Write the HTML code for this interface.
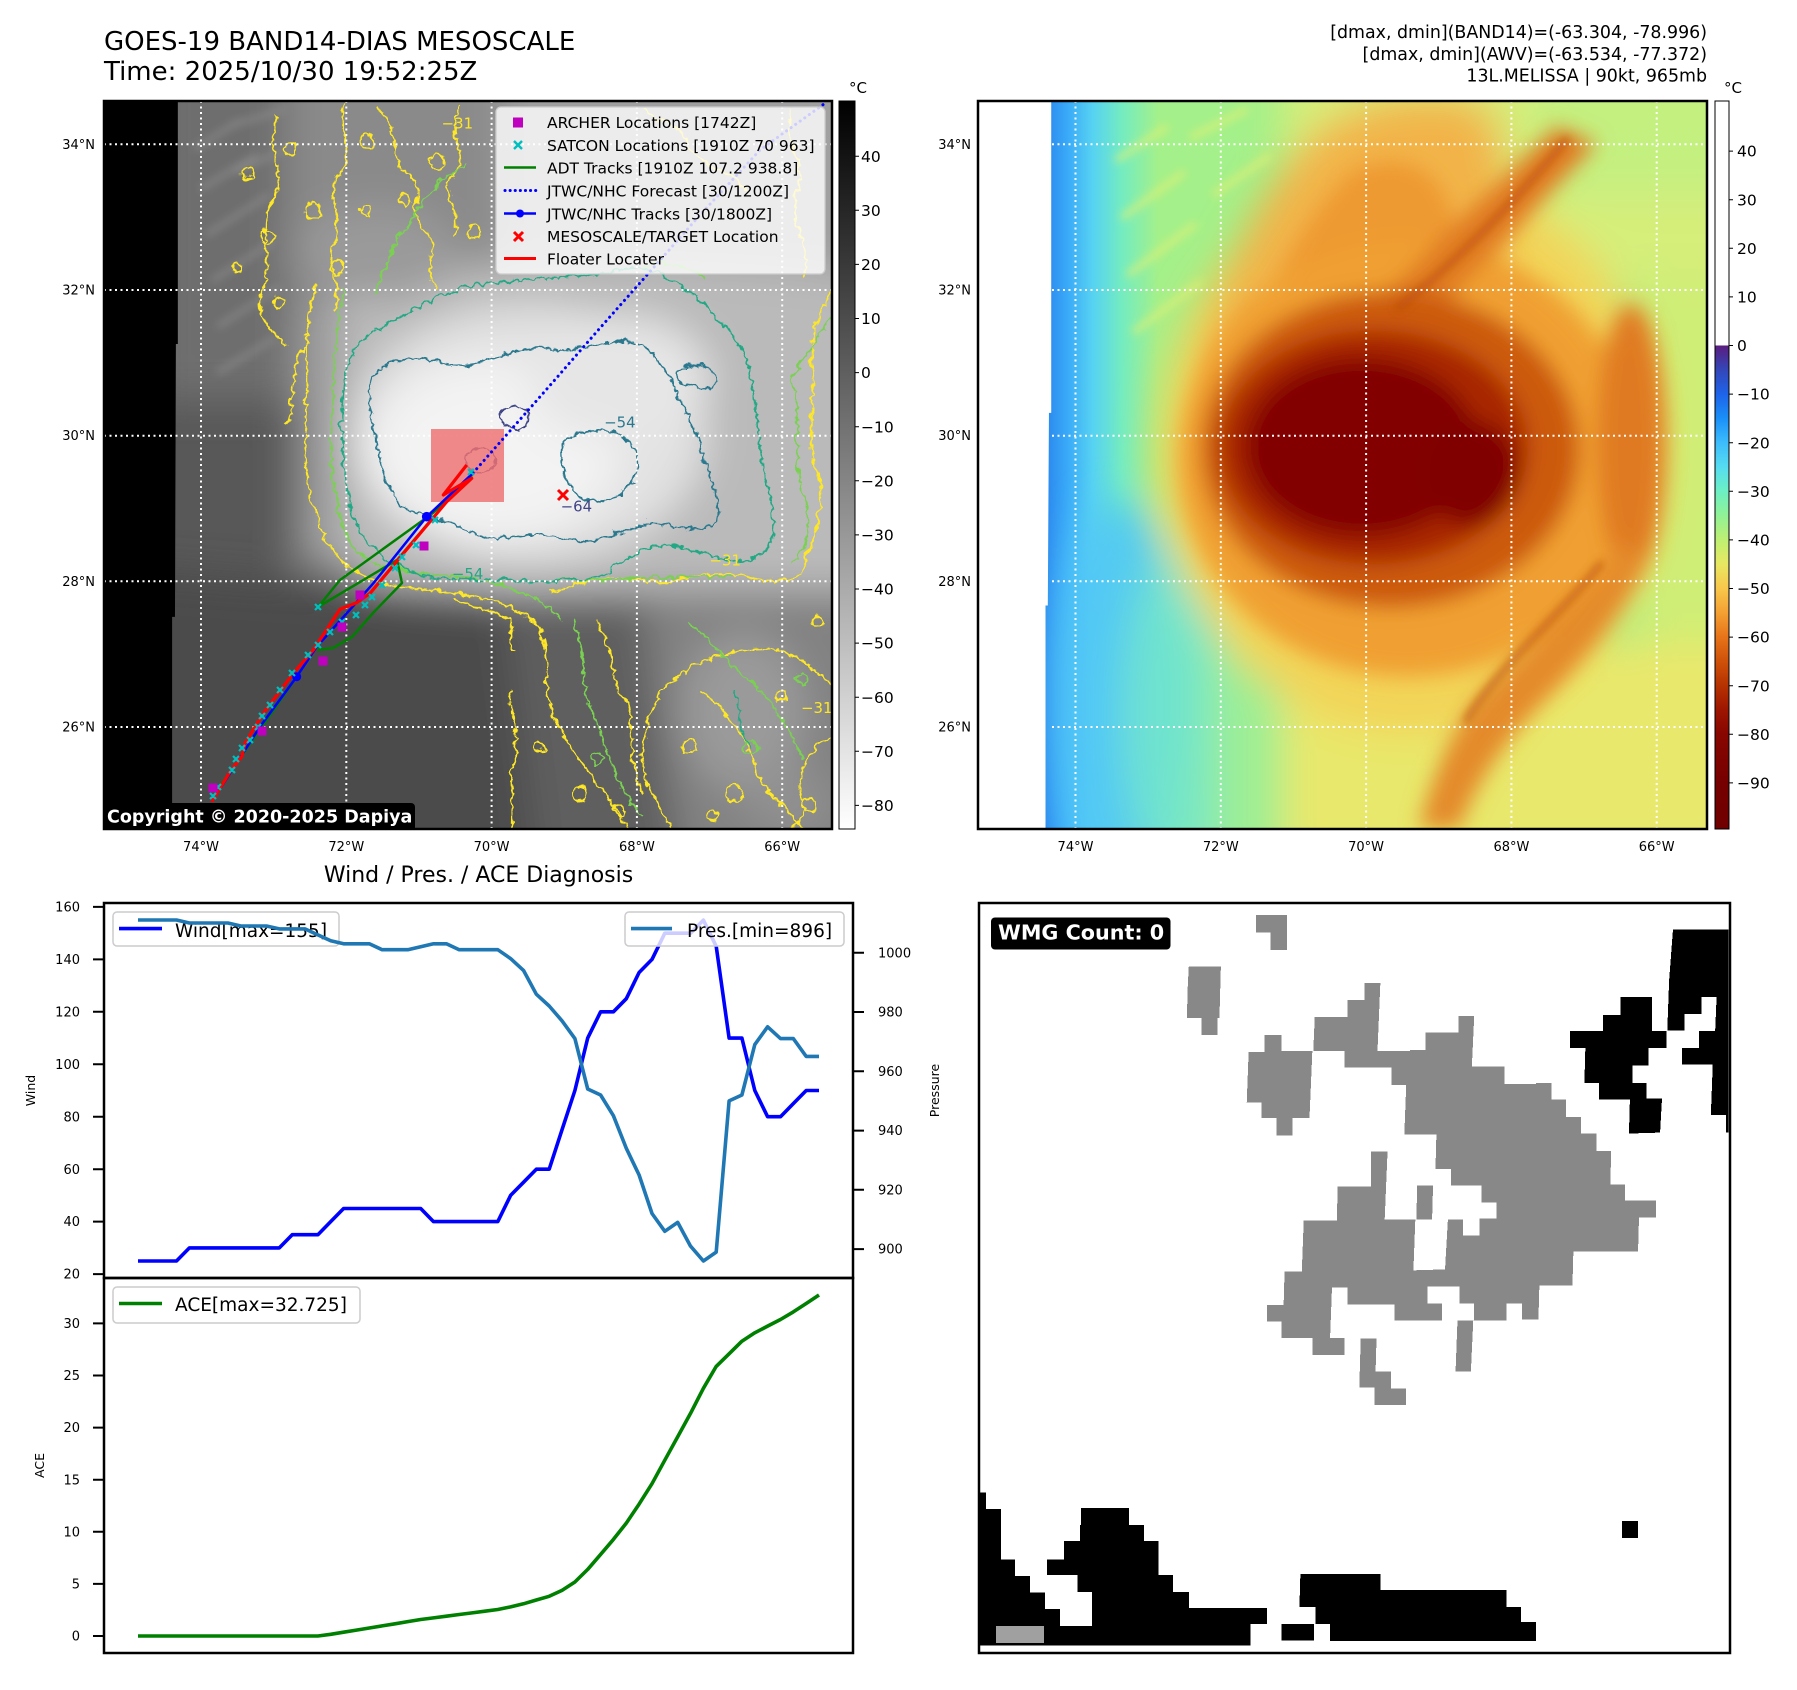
<!DOCTYPE html>
<html>
<head>
<meta charset="utf-8">
<style>
html,body{margin:0;padding:0;background:#fff;}
svg{display:block;}
text{font-family:"DejaVu Sans","Liberation Sans",sans-serif;}
</style>
</head>
<body>
<svg width="1797" height="1690" viewBox="0 0 1797 1690" xmlns="http://www.w3.org/2000/svg">
<defs>
  <clipPath id="clipL"><rect x="104" y="101" width="728" height="728"/></clipPath>
  <clipPath id="clipR"><rect x="978" y="101" width="729" height="728"/></clipPath>
  <filter id="b18" filterUnits="userSpaceOnUse" x="0" y="0" width="1700" height="1600"><feGaussianBlur stdDeviation="17"/></filter>
  <filter id="b10" filterUnits="userSpaceOnUse" x="0" y="0" width="1700" height="1600"><feGaussianBlur stdDeviation="9"/></filter>
  <filter id="b5" filterUnits="userSpaceOnUse" x="0" y="0" width="1700" height="1600"><feGaussianBlur stdDeviation="4"/></filter>
  <filter id="wig" filterUnits="userSpaceOnUse" x="0" y="0" width="1700" height="1600">
    <feTurbulence type="turbulence" baseFrequency="0.09" numOctaves="2" seed="4" result="t"/>
    <feDisplacementMap in="SourceGraphic" in2="t" scale="7" xChannelSelector="R" yChannelSelector="G"/>
  </filter>
  <linearGradient id="gcbL" x1="0" y1="0" x2="0" y2="1">
    <stop offset="0" stop-color="#000"/><stop offset="1" stop-color="#fff"/>
  </linearGradient>
  <linearGradient id="gcbR" x1="0" y1="0" x2="0" y2="1">
    <stop offset="0" stop-color="#fff"/>
    <stop offset="0.3355" stop-color="#fff"/>
    <stop offset="0.336" stop-color="#5a1d7e"/>
    <stop offset="0.369" stop-color="#3446b8"/>
    <stop offset="0.403" stop-color="#1e64ea"/>
    <stop offset="0.436" stop-color="#1a90f8"/>
    <stop offset="0.469" stop-color="#3cbcfc"/>
    <stop offset="0.503" stop-color="#56dcf0"/>
    <stop offset="0.536" stop-color="#6cf0c4"/>
    <stop offset="0.569" stop-color="#90f296"/>
    <stop offset="0.603" stop-color="#bef072"/>
    <stop offset="0.636" stop-color="#e8e862"/>
    <stop offset="0.669" stop-color="#f8c84c"/>
    <stop offset="0.703" stop-color="#f4a032"/>
    <stop offset="0.736" stop-color="#e8741a"/>
    <stop offset="0.769" stop-color="#d0520a"/>
    <stop offset="0.803" stop-color="#b63200"/>
    <stop offset="0.836" stop-color="#9e1600"/>
    <stop offset="0.869" stop-color="#880600"/>
    <stop offset="0.937" stop-color="#760000"/>
    <stop offset="1" stop-color="#700000"/>
  </linearGradient>
  <linearGradient id="gWest" x1="913" y1="0" x2="1012" y2="0" gradientUnits="userSpaceOnUse">
    <stop offset="0" stop-color="#2a86ee"/>
    <stop offset="0.2" stop-color="#3aaaf8"/>
    <stop offset="0.42" stop-color="#56d2f2"/>
    <stop offset="0.68" stop-color="#74ecc0"/>
    <stop offset="1" stop-color="#a4f08a"/>
  </linearGradient>
</defs>

<rect x="0" y="0" width="1797" height="1690" fill="#fff"/>

<!-- Titles -->
<text x="104" y="50" font-size="26" fill="#000">GOES-19 BAND14-DIAS MESOSCALE</text>
<text x="104" y="80" font-size="26" fill="#000">Time: 2025/10/30 19:52:25Z</text>
<text x="1707" y="38" font-size="17.4" text-anchor="end">[dmax, dmin](BAND14)=(-63.304, -78.996)</text>
<text x="1707" y="60" font-size="17.4" text-anchor="end">[dmax, dmin](AWV)=(-63.534, -77.372)</text>
<text x="1707" y="81.5" font-size="17.4" text-anchor="end">13L.MELISSA | 90kt, 965mb</text>

<!-- ================= LEFT MAP ================= -->
<g clip-path="url(#clipL)">
  <g transform="matrix(1.1447 0 0 1.1465 -0.17 0.11)">
    <rect x="60" y="60" width="700" height="700" fill="#585858"/>
    <g filter="url(#b18)">
      <rect x="130" y="20" width="135" height="330" fill="#6e6e6e"/>
      <rect x="250" y="20" width="540" height="230" fill="#8a8a8a"/>
      <rect x="440" y="20" width="350" height="220" fill="#a0a0a0"/>
      <path d="M268,262 C330,232 460,226 560,228 C650,232 790,236 790,262 L790,520 C650,522 560,520 480,532 C400,526 320,516 286,492 C262,440 258,320 268,262Z" fill="#bababa"/>
      <rect x="258" y="255" width="40" height="240" fill="#9c9c9c"/>
      <ellipse cx="330" cy="220" rx="70" ry="40" fill="#9a9a9a"/>
      <ellipse cx="462" cy="378" rx="155" ry="112" fill="#e2e2e2"/>
      <ellipse cx="432" cy="392" rx="110" ry="78" fill="#f3f3f3"/>
      <ellipse cx="540" cy="330" rx="80" ry="55" fill="#e6e6e6"/>
      <path d="M100,495 L440,520 L472,790 L100,790Z" fill="#4b4b4b"/>
      <path d="M440,520 L560,518 L600,790 L472,790Z" fill="#5e5e5e"/>
      <path d="M560,515 L790,515 L790,790 L600,790Z" fill="#828282"/>
      <ellipse cx="650" cy="620" rx="55" ry="70" fill="#9a9a9a"/>
      <ellipse cx="690" cy="700" rx="40" ry="30" fill="#909090"/>
    </g>
    <!-- western streaks -->
    <g stroke="#909090" stroke-width="4" fill="none" filter="url(#b5)" opacity="0.8">
      <path d="M170,130 L210,105"/><path d="M175,165 L225,135"/><path d="M180,205 L235,170"/>
      <path d="M185,245 L240,210"/><path d="M190,285 L245,250"/><path d="M190,325 L240,295"/>
      <path d="M200,110 L250,95"/><path d="M205,150 L255,128"/>
    </g>
    <!-- contours -->
    <g fill="none" stroke-width="1.6" filter="url(#wig)">
      <g stroke="#fde725">
        <path d="M275,245 C262,280 268,330 265,380 C262,420 278,460 290,480 C300,492 318,505 340,508 C360,512 385,512 410,518 C440,524 458,530 470,548 C482,575 470,600 485,630 C500,660 530,690 548,723"/>
        <path d="M727,250 C715,265 705,290 708,320 C712,350 700,380 712,410 C724,440 705,470 700,495 C690,510 660,505 640,500 C610,495 590,510 560,505 C530,500 505,505 480,515"/>
        <path d="M585,723 C575,700 555,680 560,650 C565,620 570,600 595,585 C620,570 650,560 680,565 C700,570 715,590 727,595"/>
        <path d="M727,640 C705,650 690,680 700,700 C705,712 690,720 680,723"/>
        <path d="M445,723 C450,700 440,680 448,660 C455,640 440,620 445,600"/>
        <path d="M300,88 C290,110 310,130 295,150 C280,170 300,190 290,210 C280,230 300,250 290,270"/>
        <path d="M240,100 C230,130 250,150 235,175 C222,200 240,225 228,250 C218,270 235,290 250,300"/>
        <path d="M330,95 C350,110 335,135 355,150 C375,165 350,185 370,200 C385,215 365,235 380,250"/>
        <path d="M400,92 C385,115 410,130 395,150 C380,170 405,185 395,205"/>
        <path d="M560,92 C575,110 590,100 600,125 C610,150 640,140 650,165"/>
        <path d="M690,92 C680,120 705,140 695,165 C685,190 710,210 700,240"/>
        <path d="M265,300 C250,320 258,350 248,370"/>
        <path d="M395,520 C410,532 430,526 442,538 C452,548 436,556 450,566"/>
        <path d="M520,540 C535,560 530,590 545,610 C555,630 545,660 560,690"/>
        <path d="M610,600 C630,615 650,640 660,670 C668,695 690,705 700,723"/>
        <circle cx="215" cy="150" r="5"/><circle cx="232" cy="205" r="6"/><circle cx="252" cy="128" r="5"/>
        <circle cx="272" cy="182" r="7"/><circle cx="320" cy="122" r="6"/><circle cx="352" cy="172" r="5"/>
        <circle cx="380" cy="140" r="6"/><circle cx="412" cy="200" r="5"/><circle cx="292" cy="232" r="6"/>
        <circle cx="242" cy="262" r="5"/><circle cx="205" cy="232" r="4"/><circle cx="318" cy="182" r="4"/>
        <circle cx="600" cy="650" r="6"/><circle cx="640" cy="690" r="7"/><circle cx="680" cy="605" r="5"/>
        <circle cx="705" cy="700" r="6"/><circle cx="470" cy="650" r="5"/><circle cx="505" cy="690" r="6"/>
        <circle cx="540" cy="705" r="5"/><circle cx="620" cy="710" r="5"/><circle cx="712" cy="540" r="5"/>
      </g>
      <g stroke="#7ad151">
        <path d="M300,250 C290,280 292,320 288,360 C285,400 292,440 300,465 C310,485 330,495 360,497 C400,500 430,505 455,515 C470,520 480,530 490,540"/>
        <path d="M325,255 C335,235 340,210 355,195 C365,180 370,170 380,160 C385,150 400,150 405,140"/>
        <path d="M727,270 C715,290 700,310 690,330 C700,360 690,400 700,430 C710,460 700,480 690,490"/>
        <path d="M500,540 C510,570 505,600 520,630 C530,660 540,690 560,710"/>
        <path d="M600,540 C620,560 640,580 660,600 C680,620 690,640 700,660"/>
        <path d="M560,230 C580,225 600,230 615,240"/>
        <path d="M485,505 C530,505 580,500 640,502"/>
        <circle cx="655" cy="650" r="6"/><circle cx="520" cy="660" r="5"/><circle cx="700" cy="590" r="5"/>
      </g>
      <g stroke="#22a884">
        <path d="M310,300 C330,280 360,270 380,258 C400,248 430,245 460,242 C490,238 520,240 545,232 C570,228 590,245 610,262 C630,280 650,300 655,330 C660,360 660,390 668,420 C675,450 680,470 660,485 C640,492 615,480 590,475 C565,470 545,485 530,498 C505,508 480,505 450,505 C420,505 395,505 370,500 C345,495 320,480 310,455 C300,430 298,400 297,370 C296,340 298,318 310,300 Z"/>
        <path d="M640,600 C650,620 640,640 655,650"/>
      </g>
      <g stroke="#2a788e">
        <path d="M322,330 C330,315 350,308 372,312 C390,315 405,320 420,315 C440,305 460,300 480,303 C500,305 515,298 540,296 C560,295 575,310 585,330 C592,350 605,365 610,385 C615,410 630,430 625,455 C605,465 585,455 565,455 C545,458 530,470 510,470 C490,470 475,462 455,465 C440,468 425,470 410,462 C395,455 380,450 360,445 C345,440 335,420 330,400 C325,375 318,350 322,330 Z"/>
        <path d="M490,385 C500,372 525,370 540,378 C555,388 560,405 550,420 C540,435 520,440 505,432 C495,425 485,400 490,385 Z"/>
        <path d="M592,322 C600,314 618,316 625,326 C628,336 612,340 600,336 C594,332 590,328 592,322 Z"/>
      </g>
      <g stroke="#414487">
        <path d="M436,360 C440,350 455,350 460,360 C462,368 455,374 446,372 C440,370 434,366 436,360 Z"/>
        <path d="M405,395 C412,386 425,388 430,396 C433,404 425,412 415,410 C408,408 402,402 405,395 Z"/>
      </g>
    </g>
    <g font-size="13">
      <text x="386" y="112" fill="#fde725">−31</text>
      <text x="395" y="505" fill="#22a884">−54</text>
      <text x="528" y="373" fill="#2a788e">−54</text>
      <text x="490" y="446" fill="#414487">−64</text>
      <text x="620" y="493" fill="#fde725">−31</text>
      <text x="700" y="622" fill="#fde725">−31</text>
    </g>
    <!-- black no-data strip -->
    <path d="M60,60 L155.5,60 L155.5,300 L153.8,300 L153,538 L150.5,538 L150.5,760 L60,760Z" fill="#000"/>
  </g>

  <!-- gridlines -->
  <g stroke="#fff" stroke-width="2" stroke-dasharray="2 3.5" fill="none">
    <path d="M201,101V829M346.3,101V829M491.6,101V829M636.9,101V829M782.2,101V829"/>
    <path d="M104,144.3H832M104,290H832M104,435.7H832M104,581.3H832M104,727H832"/>
  </g>

  <!-- floater square -->
  <rect x="431" y="429" width="73" height="73" fill="#ee7272" fill-opacity="0.82"/>

  <!-- tracks -->
  <g fill="none" stroke-linejoin="round">
    <polyline points="318,607 340,580 433,513 472,475" stroke="#008000" stroke-width="2.5"/>
    <polyline points="318,607 397,560 430,521" stroke="#008000" stroke-width="2.5"/>
    <polyline points="397,560 402,583 373,613 352,637 333,648 317,650" stroke="#008000" stroke-width="2.5"/>
    <polyline points="213,796 262,727 300,672" stroke="#008000" stroke-width="2.5"/>
    <polyline points="211.7,801.7 260,726.7 296.7,676.7 316.7,646.7 346.7,613.3 373.3,583.3 426.7,516.7 473,473" stroke="#0000ff" stroke-width="2.5"/>
    <polyline points="473,473 553,382 600,328 647,275 700,215 760,150 824,104" stroke="#0000ff" stroke-width="3" stroke-dasharray="0.1 5.5" stroke-linecap="round"/>
    <polyline points="211.7,801.7 230.7,770.7 241.7,756.7 245,743.3 263.3,713.3 293.3,673.3 313.3,650 340,609.3 356.7,602.7 370,593.3 446.7,501.7 471.7,478.3 443.3,495 466.7,465" stroke="#ff0000" stroke-width="3.2"/>
  </g>
  <circle cx="296.7" cy="676.7" r="4.5" fill="#0000ff"/>
  <circle cx="426.7" cy="516.7" r="4.8" fill="#0000ff"/>
  <g stroke="#00bfbf" stroke-width="2.2" fill="none">
    <path d="M210,793l6,6m0,-6l-6,6 M215,784l6,6m0,-6l-6,6 M229,767l6,6m0,-6l-6,6 M233,756l6,6m0,-6l-6,6 M239,745l6,6m0,-6l-6,6 M247,737l6,6m0,-6l-6,6 M255,724l6,6m0,-6l-6,6 M259,713l6,6m0,-6l-6,6 M267,702l6,6m0,-6l-6,6 M277,687l6,6m0,-6l-6,6 M289,670l6,6m0,-6l-6,6 M305,652l6,6m0,-6l-6,6 M315,642l6,6m0,-6l-6,6 M327,629l6,6m0,-6l-6,6 M339,619l6,6m0,-6l-6,6 M353,612l6,6m0,-6l-6,6 M362,602l6,6m0,-6l-6,6 M369,594l6,6m0,-6l-6,6 M379,582l6,6m0,-6l-6,6 M392,565l6,6m0,-6l-6,6 M399,554l6,6m0,-6l-6,6 M413,542l6,6m0,-6l-6,6 M432,517l6,6m0,-6l-6,6 M468,469l6,6m0,-6l-6,6 M315,604l6,6m0,-6l-6,6"/>
  </g>
  <g fill="#bf00bf">
    <rect x="208.5" y="783.5" width="9" height="9"/>
    <rect x="257.5" y="726.5" width="9" height="9"/>
    <rect x="318.5" y="656.5" width="9" height="9"/>
    <rect x="337.5" y="622.5" width="9" height="9"/>
    <rect x="355.5" y="590.5" width="9" height="9"/>
    <rect x="419.5" y="541.5" width="9" height="9"/>
  </g>
  <path d="M558,490l10,10m0,-10l-10,10" stroke="#ff0000" stroke-width="3"/>

  <!-- legend -->
  <rect x="496" y="107" width="329" height="167" rx="5" fill="#fff" fill-opacity="0.8" stroke="#cccccc" stroke-width="1.3"/>
  <rect x="513" y="117.5" width="10" height="10" fill="#bf00bf"/>
  <path d="M514,141l8,8m0,-8l-8,8" stroke="#00bfbf" stroke-width="2.4"/>
  <path d="M504,167.5H536" stroke="#008000" stroke-width="2.5"/>
  <path d="M505,190.5H536" stroke="#0000ff" stroke-width="3" stroke-dasharray="0.1 5" stroke-linecap="round"/>
  <path d="M504,213.5H536" stroke="#0000ff" stroke-width="2.5"/>
  <circle cx="520" cy="213.5" r="4" fill="#0000ff"/>
  <path d="M514,232l9,9m0,-9l-9,9" stroke="#ff0000" stroke-width="3"/>
  <path d="M504,258.5H536" stroke="#ff0000" stroke-width="3"/>
  <g font-size="15.5" fill="#000">
    <text x="547" y="128">ARCHER Locations [1742Z]</text>
    <text x="547" y="151">SATCON Locations [1910Z 70 963]</text>
    <text x="547" y="173.5">ADT Tracks [1910Z 107.2 938.8]</text>
    <text x="547" y="196.5">JTWC/NHC Forecast [30/1200Z]</text>
    <text x="547" y="219.5">JTWC/NHC Tracks [30/1800Z]</text>
    <text x="547" y="242">MESOSCALE/TARGET Location</text>
    <text x="547" y="264.5">Floater Locater</text>
  </g>

  <!-- copyright -->
  <rect x="102" y="803" width="313" height="28" rx="4" fill="#000"/>
  <text x="107" y="822.5" font-size="17.5" font-weight="bold" fill="#fff">Copyright © 2020-2025 Dapiya</text>
</g>
<rect x="104" y="101" width="728" height="728" fill="none" stroke="#000" stroke-width="2.5"/>

<!-- left map tick labels -->
<g font-size="13" fill="#000">
  <g text-anchor="end">
    <text x="95" y="148.8">34°N</text>
    <text x="95" y="294.5">32°N</text>
    <text x="95" y="440.2">30°N</text>
    <text x="95" y="585.8">28°N</text>
    <text x="95" y="731.5">26°N</text>
  </g>
  <g text-anchor="middle">
    <text x="201" y="851">74°W</text>
    <text x="346.3" y="851">72°W</text>
    <text x="491.6" y="851">70°W</text>
    <text x="636.9" y="851">68°W</text>
    <text x="782.2" y="851">66°W</text>
  </g>
</g>

<!-- left colorbar -->
<rect x="839" y="101" width="16" height="728" fill="url(#gcbL)" stroke="#000" stroke-width="1"/>
<text x="849" y="93" font-size="15">°C</text>
<g stroke="#000" stroke-width="1">
  <path d="M855,156.2h4M855,210.3h4M855,264.4h4M855,318.5h4M855,372.6h4M855,426.7h4M855,480.8h4M855,534.9h4M855,589h4M855,643.1h4M855,697.2h4M855,751.3h4M855,805.4h4"/>
</g>
<g font-size="15.5" fill="#000">
  <text x="861" y="161.8">40</text>
  <text x="861" y="215.9">30</text>
  <text x="861" y="270">20</text>
  <text x="861" y="324.1">10</text>
  <text x="861" y="378.2">0</text>
  <text x="861" y="432.3">−10</text>
  <text x="861" y="486.4">−20</text>
  <text x="861" y="540.5">−30</text>
  <text x="861" y="594.6">−40</text>
  <text x="861" y="648.7">−50</text>
  <text x="861" y="702.8">−60</text>
  <text x="861" y="756.9">−70</text>
  <text x="861" y="811">−80</text>
</g>

<!-- ================= RIGHT MAP ================= -->
<g clip-path="url(#clipR)">
  <g transform="matrix(1.1447 0 0 1.1465 -0.17 0.11)">
    <rect x="830" y="60" width="700" height="700" fill="#a4f08a"/>
    <rect x="900" y="60" width="112" height="700" fill="url(#gWest)"/>
    <g filter="url(#b18)">
      <ellipse cx="975" cy="610" rx="58" ry="175" fill="#52c6f6" opacity="0.9"/>
      <ellipse cx="1032" cy="625" rx="52" ry="150" fill="#72e6cc" opacity="0.85"/>
      <rect x="1120" y="20" width="420" height="230" fill="#d6ee7a"/>
      <rect x="1340" y="20" width="200" height="150" fill="#c4f080"/>
      <rect x="1430" y="240" width="110" height="330" fill="#cfee76"/>
      <rect x="1110" y="560" width="430" height="220" fill="#e8e86c"/>
      <rect x="1060" y="540" width="60" height="220" fill="#9cee94"/>
      <ellipse cx="1232" cy="395" rx="220" ry="245" fill="#f2d458"/>
      <path d="M1050,330 C1060,250 1095,170 1150,115 C1190,85 1250,75 1295,90 C1325,125 1325,210 1300,290 Z" fill="#f2b448"/>
    </g>
    <g filter="url(#b10)">
      <path d="M1085,320 C1105,250 1140,190 1180,150 C1220,130 1262,140 1272,200 L1262,300Z" fill="#ee9a30"/>
      <ellipse cx="1230" cy="400" rx="200" ry="190" fill="#f0a030"/>
      <path d="M1170,295 L1360,110 L1395,125 L1215,315 Z" fill="#e07a20"/>
      <ellipse cx="1425" cy="385" rx="30" ry="120" fill="#e07a22"/>
      <path d="M1420,470 C1390,520 1340,560 1300,600 C1270,630 1250,680 1240,723 L1275,723 C1290,680 1320,640 1350,610 C1390,570 1420,530 1440,490 Z" fill="#e48a2c"/>
      <ellipse cx="1215" cy="392" rx="165" ry="138" fill="#cc5a10"/>
      <ellipse cx="1200" cy="390" rx="135" ry="102" fill="#a82800"/>
      <ellipse cx="1190" cy="390" rx="102" ry="78" fill="#820200"/>
      <ellipse cx="1285" cy="412" rx="42" ry="46" fill="#800000"/>
    </g>
    <g stroke="#e2f074" stroke-width="5" fill="none" filter="url(#b5)" opacity="0.8">
      <path d="M975,140 L1020,110"/><path d="M980,190 L1035,150"/><path d="M985,240 L1045,195"/>
      <path d="M990,290 L1050,245"/><path d="M1040,120 L1090,95"/><path d="M1060,170 L1110,135"/>
    </g>
    <g stroke="#b84a10" stroke-width="5" fill="none" filter="url(#b5)" opacity="0.75">
      <path d="M1220,270 C1270,230 1320,180 1370,120"/>
      <path d="M1400,490 C1360,540 1310,580 1280,630"/>
    </g>
    <path d="M830,60 L918.5,60 L918.5,360 L916.5,360 L915.5,528 L913.5,528 L913.5,760 L830,760Z" fill="#fff"/>
  </g>
  <g stroke="#fff" stroke-width="2" stroke-dasharray="2 3.5" fill="none">
    <path d="M1075.5,101V829M1220.8,101V829M1366.1,101V829M1511.4,101V829M1656.7,101V829"/>
    <path d="M1052,144.3H1707M1052,290H1707M1052,435.7H1707M1052,581.3H1707M1052,727H1707"/>
  </g>
</g>
<rect x="978" y="101" width="729" height="728" fill="none" stroke="#000" stroke-width="2.5"/>

<g font-size="13" fill="#000">
  <g text-anchor="end">
    <text x="971" y="148.8">34°N</text>
    <text x="971" y="294.5">32°N</text>
    <text x="971" y="440.2">30°N</text>
    <text x="971" y="585.8">28°N</text>
    <text x="971" y="731.5">26°N</text>
  </g>
  <g text-anchor="middle">
    <text x="1075.5" y="851">74°W</text>
    <text x="1220.8" y="851">72°W</text>
    <text x="1366.1" y="851">70°W</text>
    <text x="1511.4" y="851">68°W</text>
    <text x="1656.7" y="851">66°W</text>
  </g>
</g>

<!-- right colorbar -->
<rect x="1715" y="101" width="14" height="728" fill="url(#gcbR)" stroke="#000" stroke-width="1"/>
<text x="1724" y="93" font-size="15">°C</text>
<g stroke="#000" stroke-width="1">
  <path d="M1729,151.1h4M1729,199.7h4M1729,248.3h4M1729,296.9h4M1729,345.5h4M1729,394.1h4M1729,442.7h4M1729,491.3h4M1729,539.9h4M1729,588.5h4M1729,637.1h4M1729,685.7h4M1729,734.3h4M1729,782.9h4"/>
</g>
<g font-size="15.5" fill="#000">
  <text x="1737" y="156.7">40</text>
  <text x="1737" y="205.3">30</text>
  <text x="1737" y="253.9">20</text>
  <text x="1737" y="302.5">10</text>
  <text x="1737" y="351.1">0</text>
  <text x="1737" y="399.7">−10</text>
  <text x="1737" y="448.3">−20</text>
  <text x="1737" y="496.9">−30</text>
  <text x="1737" y="545.5">−40</text>
  <text x="1737" y="594.1">−50</text>
  <text x="1737" y="642.7">−60</text>
  <text x="1737" y="691.3">−70</text>
  <text x="1737" y="739.9">−80</text>
  <text x="1737" y="788.5">−90</text>
</g>

<!-- ================= WIND / PRES / ACE ================= -->
<text x="478.5" y="882" font-size="22" text-anchor="middle">Wind / Pres. / ACE Diagnosis</text>

<polyline fill="none" stroke="#0000ff" stroke-width="3.6" stroke-linejoin="round" points="138,1261 150.8,1261 163.7,1261 176.5,1261 189.4,1247.9 202.2,1247.9 215.1,1247.9 227.9,1247.9 240.8,1247.9 253.6,1247.9 266.5,1247.9 279.3,1247.9 292.2,1234.7 305,1234.7 317.9,1234.7 330.7,1221.6 343.6,1208.5 356.4,1208.5 369.3,1208.5 382.1,1208.5 395,1208.5 407.8,1208.5 420.7,1208.5 433.5,1221.6 446.4,1221.6 459.2,1221.6 472.1,1221.6 484.9,1221.6 497.8,1221.6 510.6,1195.4 523.5,1182.3 536.3,1169.2 549.2,1169.2 562,1129.8 574.9,1090.5 587.7,1038.1 600.6,1011.8 613.4,1011.8 626.3,998.7 639.1,972.5 652,959.4 664.8,933.2 677.7,933.2 690.5,933.2 703.4,920.1 716.2,946.3 729.1,1038.1 741.9,1038.1 754.8,1090.5 767.6,1116.7 780.5,1116.7 793.3,1103.6 806.2,1090.5 819,1090.5"/>
<rect x="113" y="912" width="226" height="34" rx="4" fill="#fff" fill-opacity="0.8" stroke="#cccccc" stroke-width="1.5"/>
<path d="M119,928.6H162" stroke="#0000ff" stroke-width="3.6"/>
<text x="175" y="937" font-size="18.5">Wind[max=155]</text>

<polyline fill="none" stroke="#1f77b4" stroke-width="3.6" stroke-linejoin="round" points="138,920 150.8,920 163.7,920 176.5,920 189.4,923 202.2,923 215.1,923 227.9,923 240.8,926 253.6,926 266.5,926 279.3,928.9 292.2,928.9 305,928.9 317.9,934.9 330.7,940.8 343.6,943.8 356.4,943.8 369.3,943.8 382.1,949.7 395,949.7 407.8,949.7 420.7,946.7 433.5,943.8 446.4,943.8 459.2,949.7 472.1,949.7 484.9,949.7 497.8,949.7 510.6,958.6 523.5,970.4 536.3,994.2 549.2,1006 562,1020.8 574.9,1038.6 587.7,1089 600.6,1095 613.4,1115.7 626.3,1148.3 639.1,1175 652,1213.5 664.8,1231.3 677.7,1222.4 690.5,1246.1 703.4,1261 716.2,1252.1 729.1,1100.9 741.9,1095 754.8,1044.6 767.6,1026.8 780.5,1038.6 793.3,1038.6 806.2,1056.4 819,1056.4"/>
<rect x="625" y="912" width="219" height="34" rx="4" fill="#fff" fill-opacity="0.8" stroke="#cccccc" stroke-width="1.5"/>
<path d="M631,928.6H672" stroke="#1f77b4" stroke-width="3.6"/>
<text x="687" y="937" font-size="18.5">Pres.[min=896]</text>

<polyline fill="none" stroke="#008000" stroke-width="3.6" stroke-linejoin="round" points="138,1636 150.8,1636 163.7,1636 176.5,1636 189.4,1636 202.2,1636 215.1,1636 227.9,1636 240.8,1636 253.6,1636 266.5,1636 279.3,1636 292.2,1636 305,1636 317.9,1636 330.7,1634.3 343.6,1632.2 356.4,1630.1 369.3,1628 382.1,1625.9 395,1623.8 407.8,1621.6 420.7,1619.5 433.5,1617.9 446.4,1616.2 459.2,1614.5 472.1,1612.9 484.9,1611.2 497.8,1609.5 510.6,1606.9 523.5,1603.8 536.3,1600 549.2,1596.3 562,1590.4 574.9,1582 587.7,1569.4 600.6,1554.4 613.4,1539.4 626.3,1523.1 639.1,1504.1 652,1483.7 664.8,1460.2 677.7,1436.8 690.5,1413.4 703.4,1388.3 716.2,1366.4 729.1,1353.8 741.9,1341.2 754.8,1332.8 767.6,1326.1 780.5,1319.5 793.3,1311.9 806.2,1303.5 819,1295"/>
<rect x="113" y="1287" width="247" height="36" rx="4" fill="#fff" fill-opacity="0.8" stroke="#cccccc" stroke-width="1.5"/>
<path d="M119,1303.5H162" stroke="#008000" stroke-width="3.6"/>
<text x="175" y="1311" font-size="18.5">ACE[max=32.725]</text>

<rect x="104" y="903" width="749" height="375" fill="none" stroke="#000" stroke-width="2.5"/>
<rect x="104" y="1278" width="749" height="375" fill="none" stroke="#000" stroke-width="2.5"/>

<g stroke="#000" stroke-width="2">
  <path d="M93,906.9H104M93,959.4H104M93,1011.8H104M93,1064.3H104M93,1116.7H104M93,1169.2H104M93,1221.6H104M93,1274.1H104"/>
  <path d="M853,952.7H864M853,1012H864M853,1071.3H864M853,1130.6H864M853,1189.8H864M853,1249.1H864"/>
  <path d="M93,1636H104M93,1583.9H104M93,1531.8H104M93,1479.7H104M93,1427.6H104M93,1375.5H104M93,1323.4H104"/>
</g>
<g font-size="13" text-anchor="end">
  <text x="80" y="911.5">160</text>
  <text x="80" y="964">140</text>
  <text x="80" y="1016.4">120</text>
  <text x="80" y="1068.9">100</text>
  <text x="80" y="1121.3">80</text>
  <text x="80" y="1173.8">60</text>
  <text x="80" y="1226.2">40</text>
  <text x="80" y="1278.7">20</text>
  <text x="80" y="1640.6">0</text>
  <text x="80" y="1588.5">5</text>
  <text x="80" y="1536.4">10</text>
  <text x="80" y="1484.3">15</text>
  <text x="80" y="1432.2">20</text>
  <text x="80" y="1380.1">25</text>
  <text x="80" y="1328">30</text>
</g>
<g font-size="13">
  <text x="878" y="957.3">1000</text>
  <text x="878" y="1016.6">980</text>
  <text x="878" y="1075.9">960</text>
  <text x="878" y="1135.2">940</text>
  <text x="878" y="1194.4">920</text>
  <text x="878" y="1253.7">900</text>
</g>
<text transform="translate(35,1090.5) rotate(-90)" font-size="12.5" text-anchor="middle">Wind</text>
<text transform="translate(44,1465.5) rotate(-90)" font-size="12.5" text-anchor="middle">ACE</text>
<text transform="translate(939,1090.5) rotate(-90)" font-size="12.5" text-anchor="middle">Pressure</text>

<!-- ================= WMG PANEL ================= -->
<svg x="979" y="903" width="751" height="750" viewBox="0 0 1568 1568" preserveAspectRatio="none" shape-rendering="crispEdges">
  <g fill="#888888">
    <polygon points="578,25 643,25 643,98 609,98 609,62 578,62"/>
    <polygon points="438,133 505,133 502,240 498,240 498,276 465,276 465,240 434,240 436,170"/>
    <polygon points="596,276 632,276 632,309 696,309 690,450 655,450 655,486 621,486 621,450 590,450 590,417 559,417 563,311 596,311"/>
    <polygon points="805,167 838,167 832,309 900,309 900,307 932,307 932,271 1001,271 1001,236 1034,236 1029,342 1097,342 1097,378 1163,378 1163,376 1195,376 1195,411 1226,411 1226,447 1257,447 1257,482 1289,482 1289,518 1320,518 1318,589 1349,589 1349,622 1414,622 1414,658 1378,658 1376,729 1241,729 1239,800 1170,800 1168,871 1134,871 1134,837 1101,837 1101,873 1034,873 1034,837 1003,837 1003,802 936,802 936,837 967,837 967,873 867,873 867,839 769,839 769,804 737,804 733,909 763,909 763,945 696,945 696,909 632,909 632,875 601,875 601,840 636,840 638,770 674,770 678,664 747,664 749,593 818,593 818,520 853,520 847,662 911,662 907,768 973,766 979,662 1011,662 1011,695 1045,695 1045,660 1080,660 1080,626 1049,626 1049,591 986,591 986,556 953,556 955,484 888,484 892,380 861,380 861,344 763,344 763,309 698,309 701,238 769,238 769,203 805,203"/>
    <polygon points="915,591 948,591 946,662 913,662"/>
    <polygon points="797,910 830,910 828,979 860,979 860,1015 892,1015 892,1050 826,1050 826,1013 794,1013"/>
    <polygon points="999,873 1032,873 1027,979 995,979"/>
  </g>
  <g fill="#000">
    <polygon points="1449,55 1565,55 1565,480 1560,480 1560,443 1528,443 1532,338 1468,338 1468,303 1503,303 1503,268 1537,268 1540,197 1508,197 1508,232 1473,232 1473,267 1437,267 1441,160"/>
    <polygon points="1339,197 1405,197 1405,268 1435,268 1435,303 1398,303 1398,340 1364,340 1364,376 1394,376 1394,409 1426,409 1422,480 1357,482 1359,411 1295,411 1295,376 1264,376 1266,303 1234,303 1234,268 1303,268 1303,234 1339,234"/>
    <rect x="1343" y="1292" width="33" height="36"/>
    <polygon points="0,1232 15,1232 15,1267 46,1267 46,1372 75,1372 75,1407 106,1407 106,1441 138,1441 138,1476 169,1476 169,1512 236,1512 236,1440 206,1440 206,1405 142,1405 142,1372 177,1372 177,1334 211,1334 211,1300 213,1300 213,1265 313,1265 313,1300 344,1300 344,1334 375,1334 375,1405 405,1405 405,1440 438,1440 438,1474 601,1474 601,1507 567,1507 567,1552 0,1552"/>
    <polygon points="671,1403 838,1403 838,1436 1101,1436 1101,1472 1132,1472 1132,1503 1163,1503 1163,1543 733,1543 733,1507 703,1507 703,1472 669,1472"/>
    <rect x="632" y="1507" width="67" height="35"/>
  </g>
  <rect x="35" y="1512" width="101" height="35" fill="#a0a0a0"/>
</svg>
<rect x="979" y="903" width="751" height="750" fill="none" stroke="#000" stroke-width="2.5"/>
<rect x="991" y="917.5" width="179.5" height="32" rx="4" fill="#000"/>
<text x="998" y="939.5" font-size="20.7" font-weight="bold" fill="#fff">WMG Count: 0</text>

</svg>
</body>
</html>
